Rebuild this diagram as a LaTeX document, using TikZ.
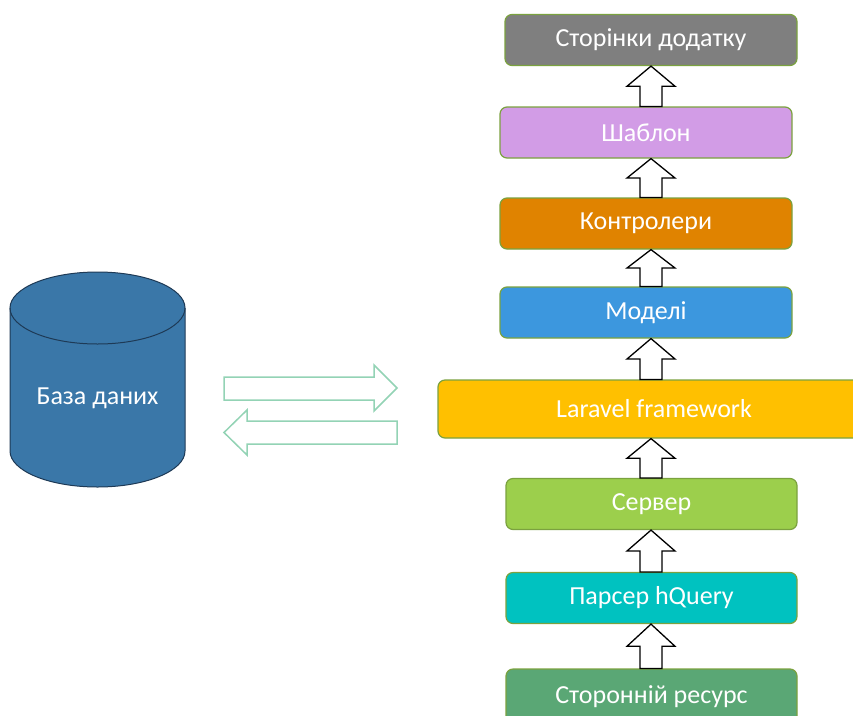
\documentclass[tikz,border=0pt]{standalone}
\usepackage{fontspec}
\setmainfont{Carlito}
\usetikzlibrary{calc}

\definecolor{boxline}{HTML}{7BA23F}
\definecolor{cgray}{HTML}{7F7F7F}
\definecolor{cpurple}{HTML}{D29CE6}
\definecolor{corange}{HTML}{E08300}
\definecolor{cblue}{HTML}{3C97DE}
\definecolor{cyellow}{HTML}{FFC000}
\definecolor{clime}{HTML}{9CCF4C}
\definecolor{cteal}{HTML}{00C2C0}
\definecolor{cgreen}{HTML}{5AA775}
\definecolor{dbfill}{HTML}{3A77A8}
\definecolor{dbline}{HTML}{1E3A56}
\definecolor{linkline}{HTML}{93D3B5}

\tikzset{
  layer/.style={draw=boxline, line width=1.2pt, rounded corners=7pt,
    minimum width=292pt, minimum height=51pt, text=white,
    font=\fontsize{26}{30}\selectfont, inner sep=0pt},
  blockarr/.style={draw=black, fill=white, line width=1.3pt, line join=miter},
  linkarr/.style={draw=linkline, fill=white, line width=1.5pt, line join=miter},
}

% vertical block arrow from the top of #1 up to the bottom of #2
\newcommand\flowarrow[2]{%
  \draw[blockarr] let \p1=(col |- #1.north), \p2=(col |- #2.south),
      \n1={(\y2-\y1)/2} in
    (\x1-11pt,\y1) -- (\x1-11pt,{\y1+\n1*1pt}) -- (\x1-24pt,{\y1+\n1*1pt})
    -- (\x1,\y2) -- (\x1+24pt,{\y1+\n1*1pt}) -- (\x1+11pt,{\y1+\n1*1pt})
    -- (\x1+11pt,\y1) -- cycle;}

\begin{document}
\begin{tikzpicture}[x=1pt, y=-1pt]
  \useasboundingbox (0,0) rectangle (853,715);
  \coordinate (col) at (651,0);

  % application stack
  \node[layer, fill=cgray]   (pages)  at (651,40)    {Сторінки додатку};
  \node[layer, fill=cpurple] (tpl)    at (646,132.5) {Шаблон};
  \node[layer, fill=corange] (ctrl)   at (646,223.5) {Контролери};
  \node[layer, fill=cblue]   (models) at (646,312.5) {Моделі};
  \node[layer, fill=cyellow, minimum width=432pt, minimum height=58pt]
                             (laravel) at (654,409)  {Laravel framework};
  \node[layer, fill=clime, minimum width=291pt]  (server) at (651.5,504) {Сервер};
  \node[layer, fill=cteal, minimum width=291pt]  (parser) at (651.5,598) {Парсер hQuery};
  \node[layer, fill=cgreen, minimum width=291pt, minimum height=56pt]
                             (source) at (651.5,697) {Сторонній ресурс};

  \flowarrow{tpl}{pages}
  \flowarrow{ctrl}{tpl}
  \flowarrow{models}{ctrl}
  \flowarrow{laravel}{models}
  \flowarrow{server}{laravel}
  \flowarrow{parser}{server}
  \flowarrow{source}{parser}

  % database cylinder
  \fill[dbfill] (10,308) -- (10,451) arc[start angle=180, end angle=360,
      x radius=87.5, y radius=-36] -- (185,308)
      arc[start angle=0, end angle=180, x radius=87.5, y radius=-36] -- cycle;
  \draw[dbline, line width=1pt] (10,308) -- (10,451)
      arc[start angle=180, end angle=360, x radius=87.5, y radius=-36]
      -- (185,308);
  \draw[dbline, line width=1pt] (97.5,308) ellipse[x radius=87.5, y radius=36];
  \node[text=white, font=\fontsize{26}{30}\selectfont] (db) at (97.5,398) {База даних};

  % data exchange between the database and the framework
  \coordinate (rtip) at (397,388);
  \coordinate (ltip) at (224,432.5);
  \draw[linkarr] (224,377) -- (374,377) -- (374,365) -- (rtip) -- (374,411)
      -- (374,400) -- (224,400) -- cycle;
  \draw[linkarr] (397,421) -- (247,421) -- (247,410) -- (ltip) -- (247,455)
      -- (247,444) -- (397,444) -- cycle;
\end{tikzpicture}
\end{document}
